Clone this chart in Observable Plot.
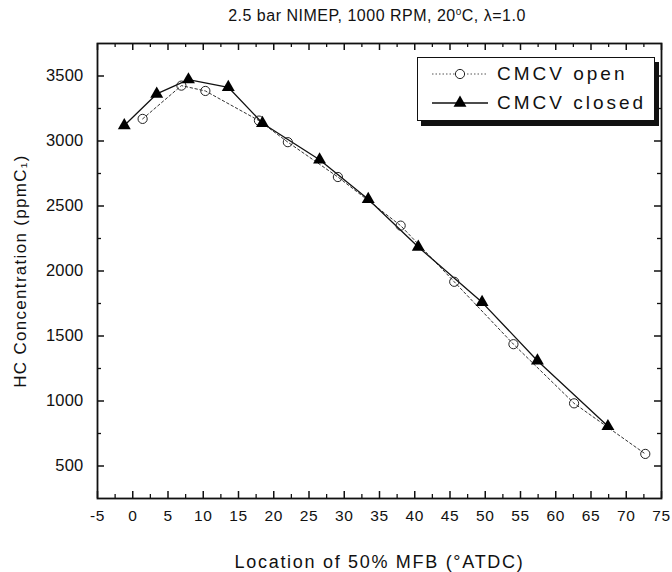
<!DOCTYPE html>
<html>
<head>
<meta charset="utf-8">
<script src="https://cdn.jsdelivr.net/npm/d3@7"></script>
<script src="https://cdn.jsdelivr.net/npm/@observablehq/plot@0.6"></script>
<style>
  html, body { margin: 0; padding: 0; background: #fff; }
  #wrap { position: relative; width: 672px; height: 572px; font-family: "Liberation Sans", Arial, sans-serif; }
  #title { position: absolute; left: 95px; width: 564px; top: 7px; text-align: center; font-size: 16px; letter-spacing: 0.5px; color: #111; }
  #title sup { font-size: 10px; vertical-align: 6px; line-height: 0; }
  #legend { position: absolute; left: 417px; top: 57px; width: 236px; height: 62px; border: 1.3px solid #111; background: #fff; box-shadow: 4px 5px 0 #111; }
  .row { position: absolute; left: 12px; height: 24px; display: flex; align-items: center; font-size: 19px; letter-spacing: 3px; color: #111; }
  .row svg { margin-right: 7px; }
  #chart svg g[aria-label="x-axis tick label"] text { font-size: 15.5px !important; letter-spacing: 0.6px; }
  #chart svg g[aria-label="y-axis tick label"] text { font-size: 16.5px !important; letter-spacing: 0.2px; }
  #chart svg g[aria-label="x-axis label"] text { font-size: 18px !important; letter-spacing: 1.7px; }
  #chart svg g[aria-label="y-axis label"] text { font-size: 17px !important; letter-spacing: 1.3px; }
</style>
</head>
<body>
<div id="wrap">
  <div id="chart"></div>
  <div id="title">2.5 bar NIMEP, 1000 RPM, 20<sup>o</sup>C, λ=1.0</div>
  <div id="legend">
    <div class="row" style="top:4px"><svg width="60" height="20" id="lg1"></svg>CMCV open</div>
    <div class="row" style="top:33px"><svg width="60" height="20" id="lg2"></svg>CMCV closed</div>
  </div>
</div>
<script>
// ---- data ----
const openX   = [1.4, 6.9, 10.3, 17.9, 22.0, 29.1, 38.0, 45.6, 54.0, 62.6, 72.7];
const openY   = [3170, 3426, 3385, 3157, 2991, 2723, 2349, 1917, 1437, 982, 593];
const closedX = [-1.2, 3.4, 7.9, 13.55, 18.4, 26.5, 33.4, 40.5, 49.55, 57.4, 67.4];
const closedY = [3119, 3362, 3472, 3413, 3137, 2856, 2552, 2185, 1759, 1310, 805];

const xMajor = [-5, 0, 5, 10, 15, 20, 25, 30, 35, 40, 45, 50, 55, 60, 65, 70, 75];
const xMinor = [-2.5, 2.5, 7.5, 12.5, 17.5, 22.5, 27.5, 32.5, 37.5, 42.5, 47.5, 52.5, 57.5, 62.5, 67.5, 72.5];
const yMajor = [500, 1000, 1500, 2000, 2500, 3000, 3500];
const yMinor = [750, 1250, 1750, 2250, 2750, 3250];

const seriesNames = ["CMCV open", "CMCV closed"];
const xLabel = "Location of 50% MFB (°ATDC)";
const yLabel = "HC Concentration (ppmC₁)";

const openData = openX.map((x, i) => ({x, y: openY[i]}));
const closedData = closedX.map((x, i) => ({x, y: closedY[i]}));

const W = 672, H = 572;
const mT = 43, mR = 11, mB = 74, mL = 97;
const iw = W - mL - mR, ih = H - mT - mB;
const maj = 7, mnr = 4;

const chart = Plot.plot({
  width: W, height: H,
  marginTop: mT, marginRight: mR, marginBottom: mB, marginLeft: mL,
  style: {fontFamily: '"Liberation Sans", Arial, sans-serif', color: "#111", background: "#fff"},
  x: {domain: [-5, 75]},
  y: {domain: [250, 3750]},
  marks: [
    // axes (labels only, ticks drawn inward below)
    Plot.axisX(xMajor, {tickSize: 0, tickPadding: 11, tickFormat: d => String(d), label: xLabel, labelAnchor: "center", labelOffset: 69, labelArrow: "none"}),
    Plot.axisY(yMajor, {tickSize: 0, tickPadding: 14, tickFormat: d => String(d), label: yLabel, labelAnchor: "center", labelOffset: 84, labelArrow: "none"}),
    // inward ticks
    Plot.tickX(xMajor, {x: d => d, insetTop: ih - maj, stroke: "#111", strokeWidth: 1.5}),
    Plot.tickX(xMajor, {x: d => d, insetBottom: ih - maj, stroke: "#111", strokeWidth: 1.5}),
    Plot.tickX(xMinor, {x: d => d, insetTop: ih - mnr, stroke: "#111", strokeWidth: 1.3}),
    Plot.tickX(xMinor, {x: d => d, insetBottom: ih - mnr, stroke: "#111", strokeWidth: 1.3}),
    Plot.tickY(yMajor, {y: d => d, insetRight: iw - maj, stroke: "#111", strokeWidth: 1.5}),
    Plot.tickY(yMajor, {y: d => d, insetLeft: iw - maj, stroke: "#111", strokeWidth: 1.5}),
    Plot.tickY(yMinor, {y: d => d, insetRight: iw - mnr, stroke: "#111", strokeWidth: 1.3}),
    Plot.tickY(yMinor, {y: d => d, insetLeft: iw - mnr, stroke: "#111", strokeWidth: 1.3}),
    Plot.frame({stroke: "#111", strokeWidth: 1.8}),
    // series
    Plot.line(openData, {x: "x", y: "y", stroke: "#333", strokeWidth: 1, strokeDasharray: "2.5,2.5"}),
    Plot.line(closedData, {x: "x", y: "y", stroke: "#111", strokeWidth: 1.3}),
    Plot.dot(openData, {x: "x", y: "y", r: 4.6, stroke: "#222", strokeWidth: 1, fill: "none"}),
    Plot.dot(closedData, {x: "x", y: "y", r: 4.8, symbol: "triangle", fill: "#000", stroke: "none"})
  ]
});
document.getElementById("chart").appendChild(chart);

// legend samples
const lg1 = d3.select("#lg1");
lg1.append("line").attr("x1", 2).attr("x2", 58).attr("y1", 10).attr("y2", 10).attr("stroke", "#555").attr("stroke-width", 1).attr("stroke-dasharray", "1.5,2");
lg1.append("circle").attr("cx", 30).attr("cy", 10).attr("r", 4.6).attr("fill", "#fff").attr("stroke", "#222");
const lg2 = d3.select("#lg2");
lg2.append("line").attr("x1", 2).attr("x2", 58).attr("y1", 10).attr("y2", 10).attr("stroke", "#111").attr("stroke-width", 1.3);
lg2.append("path").attr("transform", "translate(30,10)").attr("d", d3.symbol(d3.symbolTriangle, 4.8 * 4.8 * Math.PI)()).attr("fill", "#000");
</script>
</body>
</html>
